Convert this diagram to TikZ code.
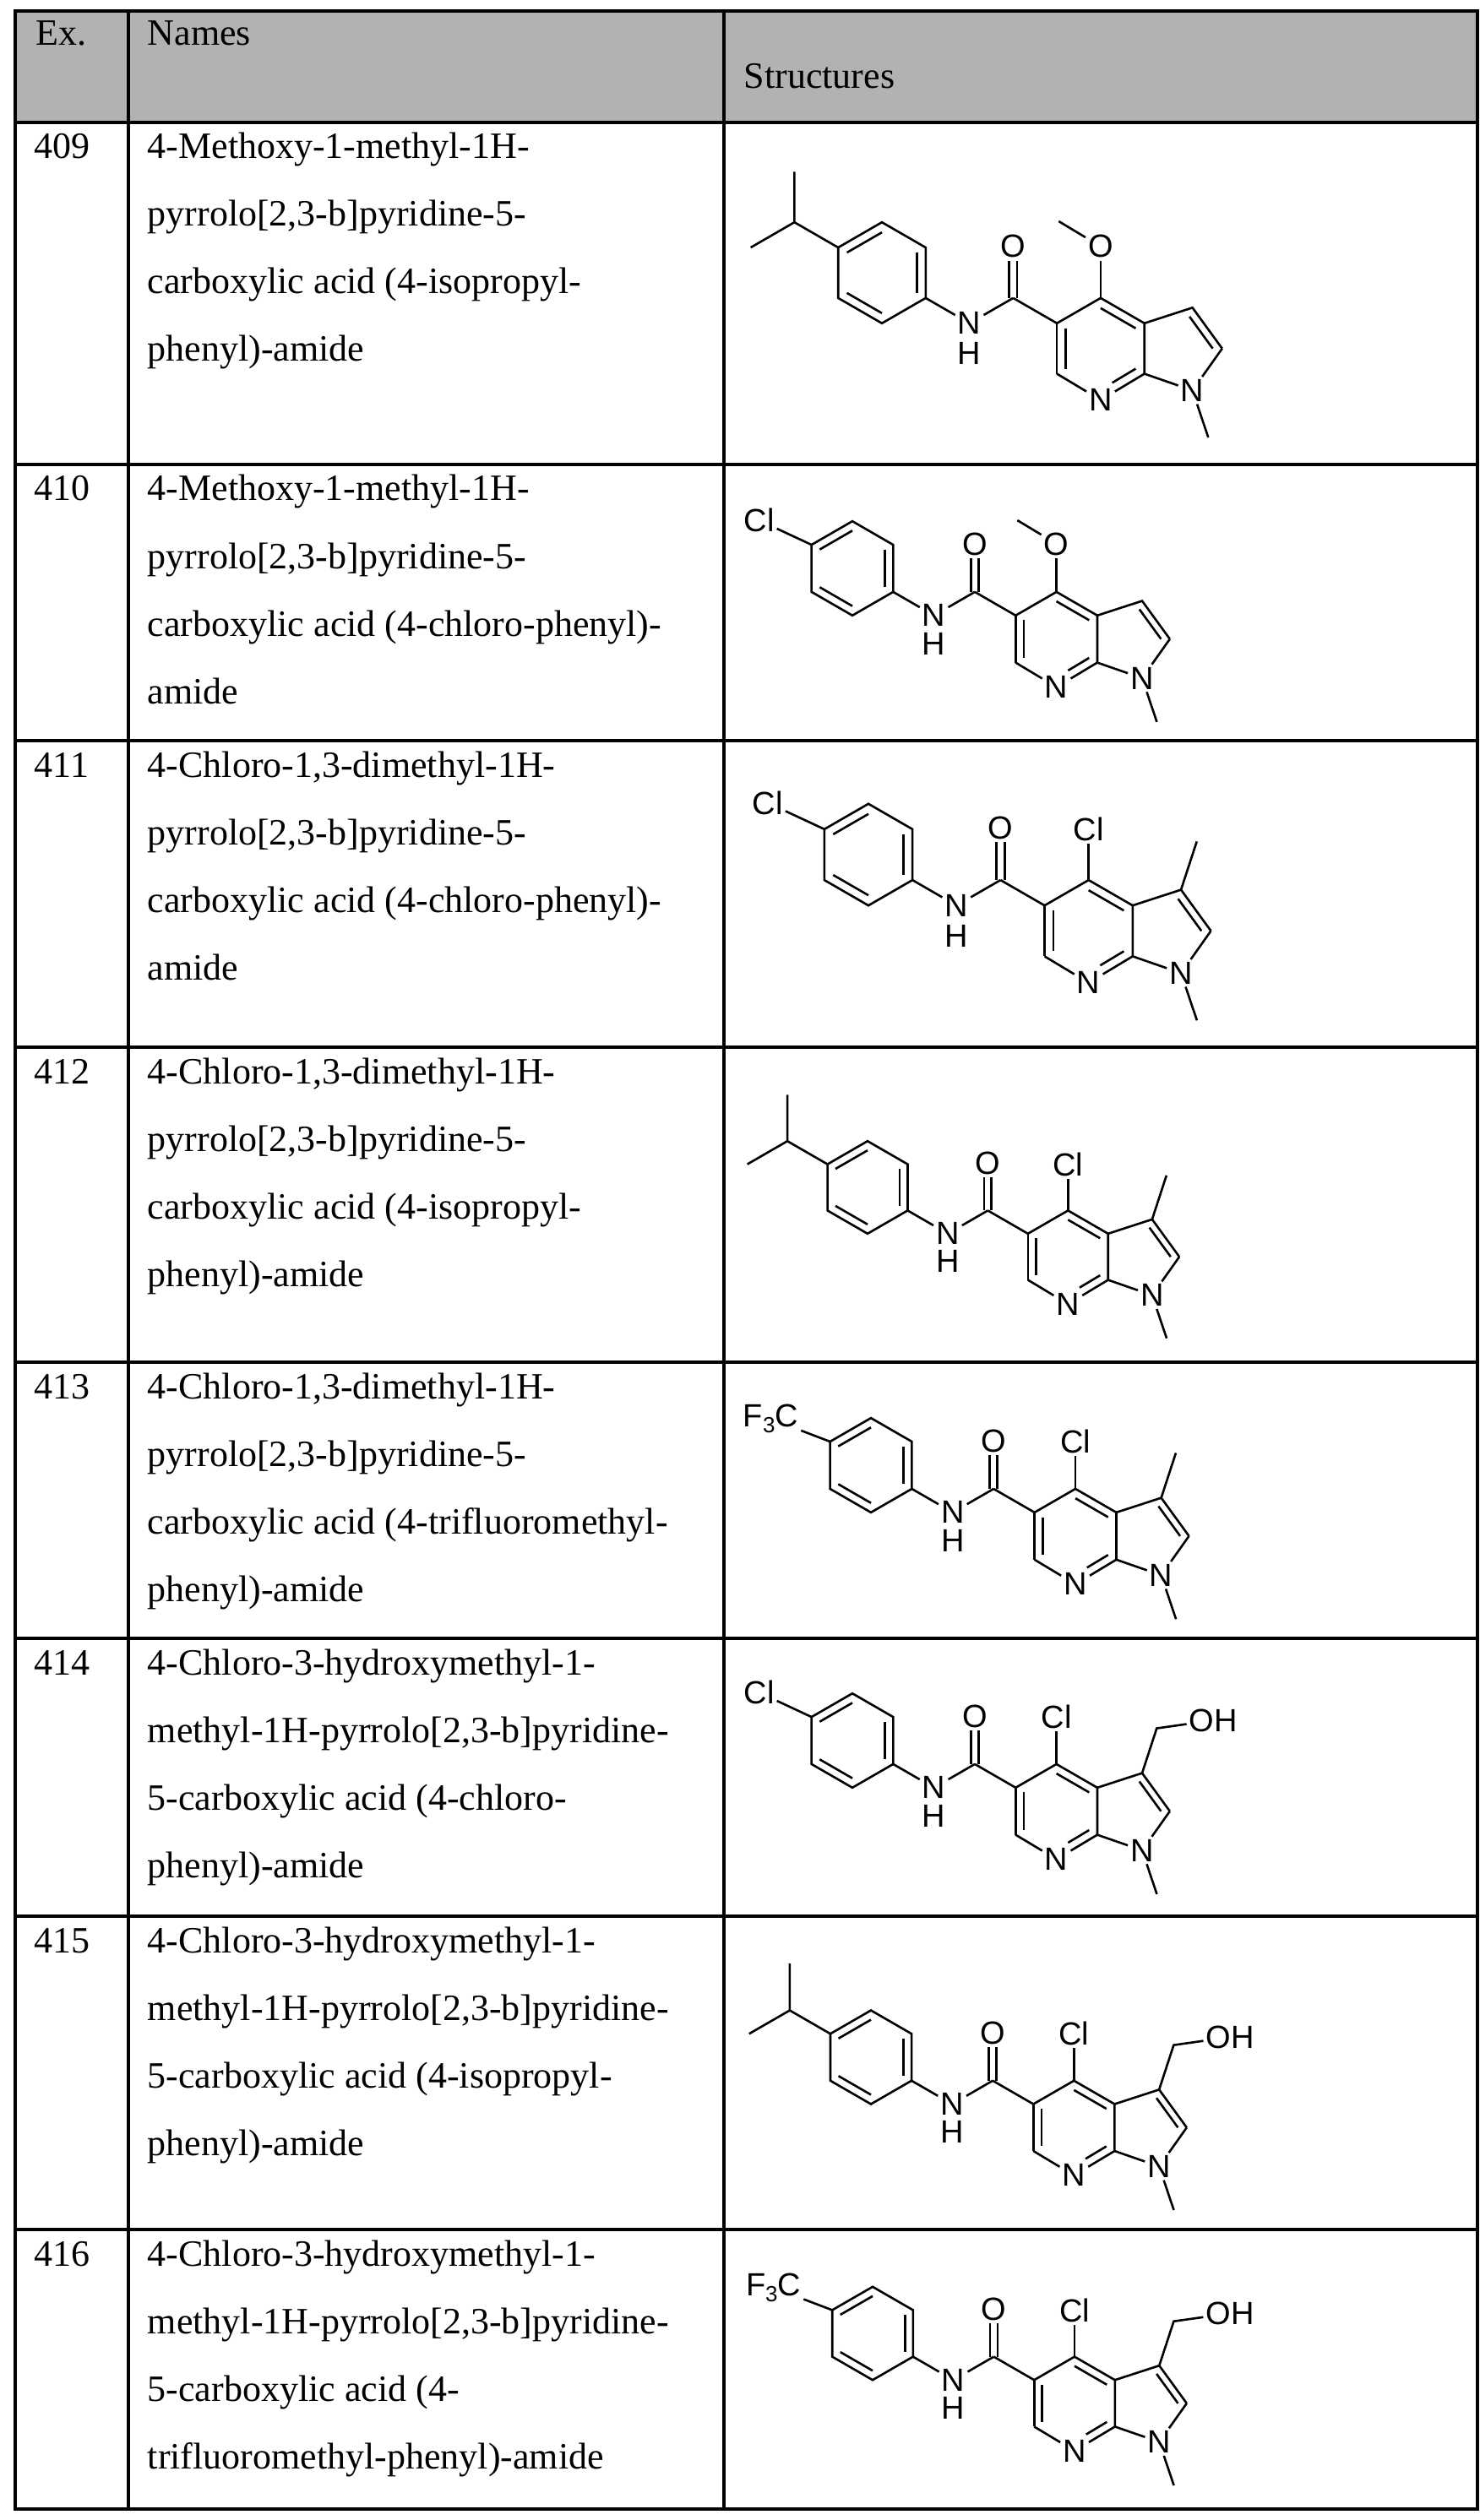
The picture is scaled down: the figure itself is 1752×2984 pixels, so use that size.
\documentclass[tikz,border=0pt]{standalone}
\usepackage{fontspec}
\setmainfont{Liberation Serif}
\newfontfamily\chemfont{Liberation Sans}
\usetikzlibrary{calc}
\tikzset{
  atom/.style={font=\chemfont\fontsize{9.5}{10}\selectfont, inner sep=0.6pt},
  bond/.style={line width=0.65pt},
  txt/.style={anchor=base west, font=\fontsize{11}{13}\selectfont, inner sep=0pt},
  grid/.style={line width=1pt}
}
\newcommand\mol[7]{%
\begin{scope}[shift={({#2*0.25pt},{-#3*0.25pt})}, x={(#4*0.25pt,0pt)}, y={(0pt,#4*0.25pt)}]
 \coordinate (#1-a0) at (0,0);
 \coordinate (#1-a1) at (0,1);
 \coordinate (#1-a2) at (0.866,0.5);
 \coordinate (#1-a3) at (0.866,-0.5);
 \coordinate (#1-a4) at (0,-1);
 \coordinate (#1-a5) at (-0.866,-0.5);
 \coordinate (#1-a6) at (-0.866,0.5);
 \node[atom] (#1-N) at (1.732,-1) {N};
 \node[atom] (#1-H) at (1.732,-1.6) {H};
 \coordinate (#1-cc) at (2.598,-0.5);
 \node[atom] (#1-O) at (2.598,0.52) {O};
 \coordinate (#1-c5) at (3.464,-1);
 \coordinate (#1-c4) at (4.330,-0.5);
 \coordinate (#1-c3a) at (5.196,-1);
 \coordinate (#1-c7a) at (5.196,-2);
 \node[atom] (#1-n7) at (4.330,-2.52) {N};
 \coordinate (#1-c6) at (3.464,-2);
 \coordinate (#1-p) at (4.330,-1.5);
 \coordinate (#1-c3) at (6.147,-0.691);
 \coordinate (#1-c2) at (6.735,-1.5);
 \node[atom] (#1-n1) at (6.147,-2.33) {N};
 \coordinate (#1-q) at (5.884,-1.5);
 \coordinate (#1-nme) at (6.46,-3.26);
 \draw[bond] (#1-a1) -- (#1-a2) -- (#1-a3) -- (#1-a4) -- (#1-a5) -- (#1-a6) -- cycle;
 \draw[bond] ($(#1-a6)!0.2!(#1-a0)$) -- ($(#1-a1)!0.2!(#1-a0)$);
 \draw[bond] ($(#1-a2)!0.2!(#1-a0)$) -- ($(#1-a3)!0.2!(#1-a0)$);
 \draw[bond] ($(#1-a4)!0.2!(#1-a0)$) -- ($(#1-a5)!0.2!(#1-a0)$);
 \draw[bond] (#1-a3) -- (#1-N);
 \draw[bond] (#1-N) -- (#1-cc);
 \draw[bond] (#1-cc) -- (#1-c5);
 \draw[bond] ($(#1-cc)+(-0.08,0)$) -- ($(#1-O.south)+(-0.08,0)$);
 \draw[bond] ($(#1-cc)+(0.08,0)$) -- ($(#1-O.south)+(0.08,0)$);
 \draw[bond] (#1-c5) -- (#1-c4) -- (#1-c3a) -- (#1-c7a);
 \draw[bond] (#1-c5) -- (#1-c6);
 \draw[bond] (#1-c6) -- (#1-n7);
 \draw[bond] (#1-n7) -- (#1-c7a);
 \draw[bond] ($(#1-c5)!0.2!(#1-p)$) -- ($(#1-c6)!0.2!(#1-p)$);
 \draw[bond] ($(#1-c4)!0.2!(#1-p)$) -- ($(#1-c3a)!0.2!(#1-p)$);
 \draw[bond, shorten <=4pt] ($(#1-n7)!0.2!(#1-p)$) -- ($(#1-c7a)!0.2!(#1-p)$);
 \draw[bond] (#1-c3a) -- (#1-c3) -- (#1-c2);
 \draw[bond] (#1-c2) -- (#1-n1);
 \draw[bond] (#1-n1) -- (#1-c7a);
 \draw[bond] ($(#1-c3)!0.22!(#1-q)$) -- ($(#1-c2)!0.22!(#1-q)$);
 \draw[bond] (#1-n1) -- (#1-nme);
 #5{#1}#6{#1}#7{#1}
\end{scope}}
\newcommand\subipr[1]{%
 \coordinate (#1-ch) at (-1.732,1);
 \coordinate (#1-m1) at (-1.732,2);
 \coordinate (#1-m2) at (-2.598,0.5);
 \draw[bond] (#1-a6) -- (#1-ch) -- (#1-m1);
 \draw[bond] (#1-ch) -- (#1-m2);}
\newcommand\subcl[1]{%
 \node[atom] (#1-X) at (-1.98,1.02) {Cl};
 \draw[bond] (#1-a6) -- (#1-X);}
\newcommand\subcf[1]{%
 \node[atom, anchor=east] (#1-X) at (-1.48,0.98) {F\raisebox{-0.35ex}{\fontsize{6.5}{7}\selectfont 3}C};
 \draw[bond] (#1-a6) -- (#1-X);}
\newcommand\cfourome[1]{%
 \node[atom] (#1-O2) at (4.330,0.52) {O};
 \coordinate (#1-ome) at (3.50,1.02);
 \draw[bond] (#1-c4) -- (#1-O2);
 \draw[bond] (#1-O2) -- (#1-ome);}
\newcommand\cfourcl[1]{%
 \node[atom] (#1-Cl4) at (4.330,0.5) {Cl};
 \draw[bond] (#1-c4) -- (#1-Cl4);}
\newcommand\cthreeh[1]{}
\newcommand\cthreeme[1]{%
 \coordinate (#1-me3) at (6.457,0.259);
 \draw[bond] (#1-c3) -- (#1-me3);}
\newcommand\cthreeoh[1]{%
 \coordinate (#1-ch2) at (6.457,0.259);
 \node[atom, anchor=west] (#1-OH) at (7.09,0.43) {OH};
 \draw[bond] (#1-c3) -- (#1-ch2) -- (#1-OH);}
\newcommand\namerow[6]{%
 \node[txt] (n#1) at (40,{#2+43}) {#1};
 \node[txt] (n#1a) at (174,{#2+43}) {#3};
 \node[txt] (n#1b) at (174,{#2+123}) {#4};
 \node[txt] (n#1c) at (174,{#2+203}) {#5};
 \node[txt] (n#1d) at (174,{#2+283}) {#6};}
\begin{document}
\begin{tikzpicture}[x=0.25pt,y=-0.25pt]
\useasboundingbox[fill=white] (0,0) rectangle (1752,2984);
\fill[black!30] (18,13) rectangle (1749,145);
\draw[grid] (18,13) rectangle (1749,2971);
\foreach \yy in {145,550,877,1240,1613,1940,2269,2640} \draw[grid] (18,\yy) -- (1749,\yy);
\draw[grid] (152,13) -- (152,2971);
\draw[grid] (857,13) -- (857,2971);
\node[txt] (hEx) at (42,54) {Ex.};
\node[txt] (hNames) at (174,54) {Names};
\node[txt] (hStruct) at (880,105) {Structures};
\namerow{409}{145}{4-Methoxy-1-methyl-1H-}{pyrrolo[2,3-b]pyridine-5-}{carboxylic acid (4-isopropyl-}{phenyl)-amide}
\namerow{410}{550}{4-Methoxy-1-methyl-1H-}{pyrrolo[2,3-b]pyridine-5-}{carboxylic acid (4-chloro-phenyl)-}{amide}
\namerow{411}{877}{4-Chloro-1,3-dimethyl-1H-}{pyrrolo[2,3-b]pyridine-5-}{carboxylic acid (4-chloro-phenyl)-}{amide}
\namerow{412}{1240}{4-Chloro-1,3-dimethyl-1H-}{pyrrolo[2,3-b]pyridine-5-}{carboxylic acid (4-isopropyl-}{phenyl)-amide}
\namerow{413}{1613}{4-Chloro-1,3-dimethyl-1H-}{pyrrolo[2,3-b]pyridine-5-}{carboxylic acid (4-trifluoromethyl-}{phenyl)-amide}
\namerow{414}{1940}{4-Chloro-3-hydroxymethyl-1-}{methyl-1H-pyrrolo[2,3-b]pyridine-}{5-carboxylic acid (4-chloro-}{phenyl)-amide}
\namerow{415}{2269}{4-Chloro-3-hydroxymethyl-1-}{methyl-1H-pyrrolo[2,3-b]pyridine-}{5-carboxylic acid (4-isopropyl-}{phenyl)-amide}
\namerow{416}{2640}{4-Chloro-3-hydroxymethyl-1-}{methyl-1H-pyrrolo[2,3-b]pyridine-}{5-carboxylic acid (4-}{trifluoromethyl-phenyl)-amide}
\mol{m409}{1044}{323}{59.8}{\subipr}{\cfourome}{\cthreeh}
\mol{m410}{1009}{673}{55.8}{\subcl}{\cfourome}{\cthreeh}
\mol{m411}{1028}{1012}{60.2}{\subcl}{\cfourcl}{\cthreeme}
\mol{m412}{1027}{1406}{54.8}{\subipr}{\cfourcl}{\cthreeme}
\mol{m413}{1031}{1735}{55.9}{\subcf}{\cfourcl}{\cthreeme}
\mol{m414}{1009}{2061}{55.8}{\subcl}{\cfourcl}{\cthreeoh}
\mol{m415}{1031}{2436}{55.5}{\subipr}{\cfourcl}{\cthreeoh}
\mol{m416}{1033}{2763}{55.2}{\subcf}{\cfourcl}{\cthreeoh}
\end{tikzpicture}
\end{document}
